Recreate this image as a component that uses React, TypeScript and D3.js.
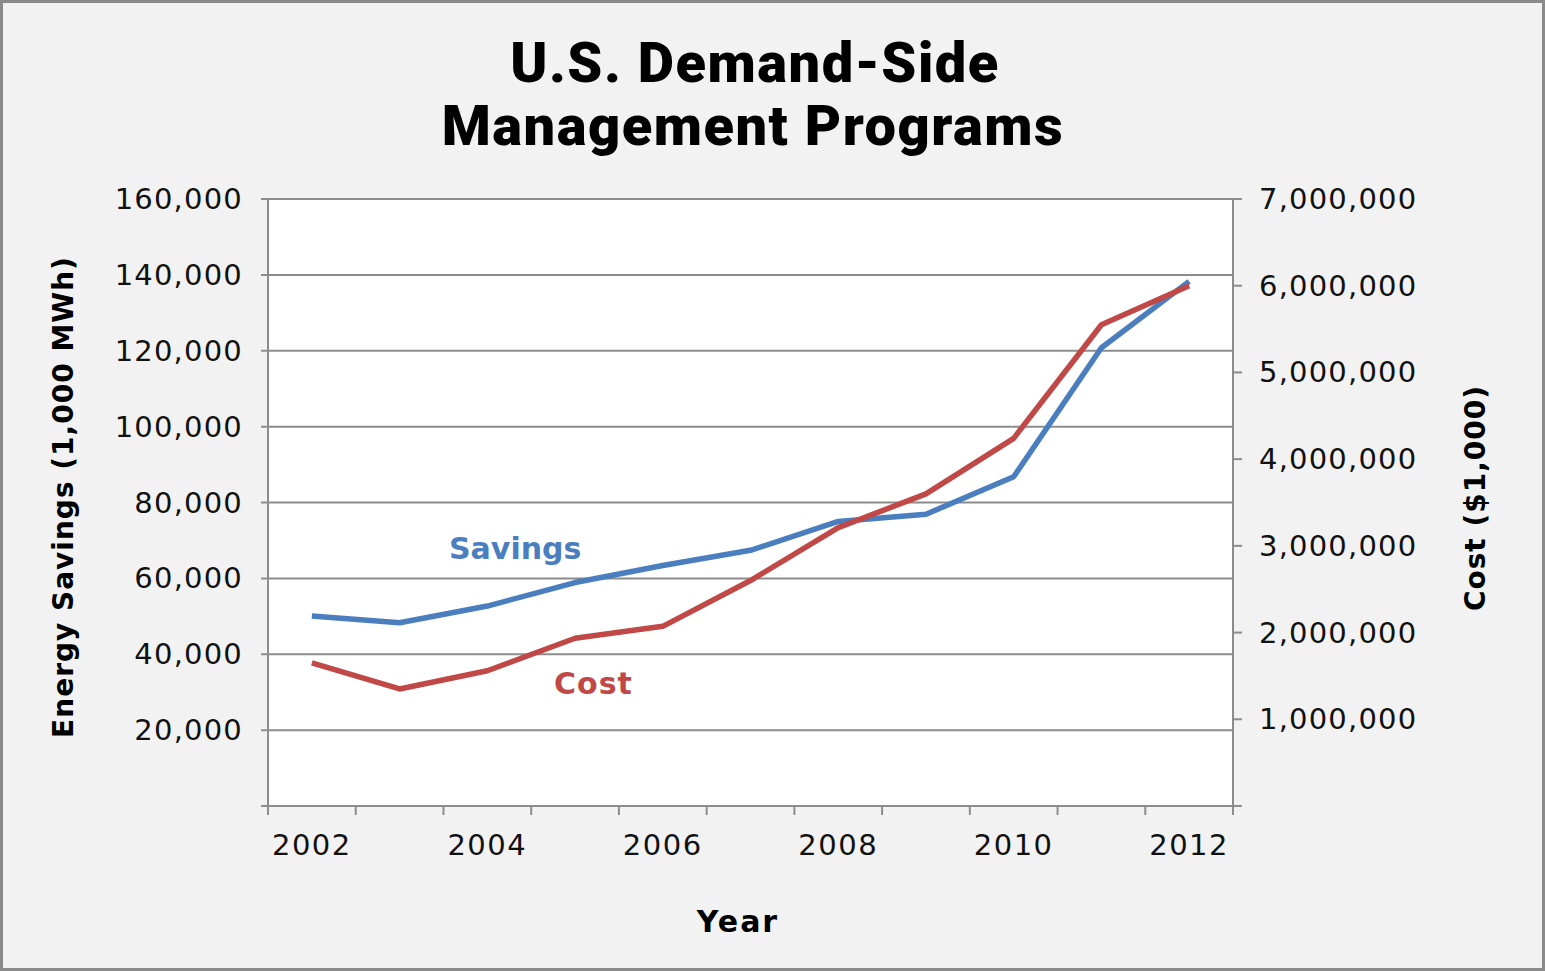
import * as d3 from "d3";
import { useEffect, useRef } from "react";

// values
const years = [2002, 2003, 2004, 2005, 2006, 2007, 2008, 2009, 2010, 2011, 2012];
const savings = [50100, 48300, 52700, 58900, 63400, 67400, 75000, 76900, 86800, 120800, 138300];
const cost = [1650000, 1350000, 1560000, 1935000, 2072000, 2600000, 3210000, 3600000, 4240000, 5550000, 6000000];
const leftTicks = [20000, 40000, 60000, 80000, 100000, 120000, 140000, 160000];
const rightTicks = [1000000, 2000000, 3000000, 4000000, 5000000, 6000000, 7000000];
const yearLabels = [2002, 2004, 2006, 2008, 2010, 2012];

const W = 1545;
const H = 971;

const App = () => {
  const ref = useRef<SVGSVGElement | null>(null);

  useEffect(() => {
    const svg = d3.select(ref.current);
    svg.selectAll("*").remove();

    const margin = { top: 199, bottom: 165, left: 268, right: 312 };
    const x0 = margin.left;
    const x1 = W - margin.right;
    const y0 = H - margin.bottom;
    const y1 = margin.top;

    const font = "'DejaVu Sans', Verdana, sans-serif";
    const axisGray = "#8c8c8c";
    const blue = "#4a7ebf";
    const red = "#c04846";

    // фон и рамка
    svg.append("rect")
      .attr("x", 1.5).attr("y", 1.5)
      .attr("width", W - 3).attr("height", H - 3)
      .attr("fill", "#f2f2f2")
      .attr("stroke", "#8a8a8a")
      .attr("stroke-width", 3);

    svg.append("rect")
      .attr("x", x0).attr("y", y1)
      .attr("width", x1 - x0).attr("height", y0 - y1)
      .attr("fill", "#ffffff");

    const scaleX = d3.scaleBand<number>().domain(years).range([x0, x1]);
    const yLeft = d3.scaleLinear().domain([0, 160000]).range([y0, y1]);
    const yRight = d3.scaleLinear().domain([0, 7000000]).range([y0, y1]);
    const cx = (d: number) => (scaleX(d) as number) + scaleX.bandwidth() / 2;

    // сетка
    svg.append("g")
      .selectAll("line")
      .data(leftTicks)
      .enter()
      .append("line")
      .attr("x1", x0 - 7).attr("x2", x1)
      .attr("y1", d => yLeft(d)).attr("y2", d => yLeft(d))
      .attr("stroke", axisGray)
      .attr("stroke-width", 2);

    // левая ось
    svg.append("line")
      .attr("x1", x0).attr("x2", x0)
      .attr("y1", y1).attr("y2", y0 + 7)
      .attr("stroke", axisGray).attr("stroke-width", 2);
    svg.append("line")
      .attr("x1", x0 - 7).attr("x2", x0)
      .attr("y1", y0).attr("y2", y0)
      .attr("stroke", axisGray).attr("stroke-width", 2);

    svg.append("g")
      .selectAll("text")
      .data(leftTicks)
      .enter()
      .append("text")
      .attr("x", x0 - 25)
      .attr("y", d => yLeft(d) + 10)
      .attr("text-anchor", "end")
      .style("font-family", font)
      .style("font-size", "29px")
      .style("letter-spacing", "1.2px")
      .attr("fill", "#111")
      .text(d => d3.format(",")(d));

    // правая ось
    svg.append("line")
      .attr("x1", x1).attr("x2", x1)
      .attr("y1", y1).attr("y2", y0 + 7)
      .attr("stroke", axisGray).attr("stroke-width", 2);
    svg.append("g")
      .selectAll("line")
      .data([0, ...rightTicks])
      .enter()
      .append("line")
      .attr("x1", x1).attr("x2", x1 + 9)
      .attr("y1", d => yRight(d)).attr("y2", d => yRight(d))
      .attr("stroke", axisGray).attr("stroke-width", 2);

    svg.append("g")
      .selectAll("text")
      .data(rightTicks)
      .enter()
      .append("text")
      .attr("x", x1 + 26)
      .attr("y", d => yRight(d) + 10)
      .attr("text-anchor", "start")
      .style("font-family", font)
      .style("font-size", "29px")
      .style("letter-spacing", "1.2px")
      .attr("fill", "#111")
      .text(d => d3.format(",")(d));

    // ось X
    svg.append("line")
      .attr("x1", x0).attr("x2", x1)
      .attr("y1", y0).attr("y2", y0)
      .attr("stroke", axisGray).attr("stroke-width", 2);
    const bounds = [...years.map(d => scaleX(d) as number), x1];
    svg.append("g")
      .selectAll("line")
      .data(bounds)
      .enter()
      .append("line")
      .attr("x1", d => d).attr("x2", d => d)
      .attr("y1", y0).attr("y2", y0 + 9)
      .attr("stroke", axisGray).attr("stroke-width", 2);

    svg.append("g")
      .selectAll("text")
      .data(yearLabels)
      .enter()
      .append("text")
      .attr("x", d => cx(d))
      .attr("y", y0 + 49)
      .attr("text-anchor", "middle")
      .style("font-family", font)
      .style("font-size", "29px")
      .style("letter-spacing", "1.5px")
      .attr("fill", "#111")
      .text(d => String(d));

    // линии
    const lineL = d3.line<number>()
      .x((_, i) => cx(years[i]))
      .y(d => yLeft(d));
    const lineR = d3.line<number>()
      .x((_, i) => cx(years[i]))
      .y(d => yRight(d));

    svg.append("path")
      .datum(savings)
      .attr("d", lineL)
      .attr("fill", "none")
      .attr("stroke", blue)
      .attr("stroke-width", 5.5)
      .attr("stroke-linejoin", "round");

    svg.append("path")
      .datum(cost)
      .attr("d", lineR)
      .attr("fill", "none")
      .attr("stroke", red)
      .attr("stroke-width", 5.5)
      .attr("stroke-linejoin", "round");

    // подписи серий
    svg.append("text")
      .attr("x", 449).attr("y", 559)
      .style("font-family", font)
      .style("font-size", "30px")
      .style("font-weight", "bold")
      .attr("fill", blue)
      .text("Savings");
    svg.append("text")
      .attr("x", 554).attr("y", 694)
      .style("font-family", font)
      .style("font-size", "30px")
      .style("font-weight", "bold")
      .style("letter-spacing", "1px")
      .attr("fill", red)
      .text("Cost");

    // заголовок
    const title = svg.append("text")
      .attr("text-anchor", "middle")
      .style("font-family", "Roboto, sans-serif")
      .style("font-weight", "900")
      .style("font-size", "56px")
      .style("letter-spacing", "1.5px")
      .attr("fill", "#000");
    title.append("tspan").attr("x", 755).attr("y", 82).text("U.S. Demand-Side");
    title.append("tspan").attr("x", 753).attr("y", 145).text("Management Programs");

    // подписи осей
    svg.append("text")
      .attr("transform", `translate(73, 497) rotate(-90)`)
      .attr("text-anchor", "middle")
      .style("font-family", font)
      .style("font-size", "28px")
      .style("font-weight", "bold")
      .style("letter-spacing", "1px")
      .attr("fill", "#000")
      .text("Energy Savings (1,000 MWh)");

    svg.append("text")
      .attr("transform", `translate(1485, 498) rotate(-90)`)
      .attr("text-anchor", "middle")
      .style("font-family", font)
      .style("font-size", "28px")
      .style("font-weight", "bold")
      .style("letter-spacing", "1px")
      .attr("fill", "#000")
      .text("Cost ($1,000)");

    svg.append("text")
      .attr("x", 738).attr("y", 932)
      .attr("text-anchor", "middle")
      .style("font-family", font)
      .style("font-size", "30px")
      .style("font-weight", "bold")
      .style("letter-spacing", "2px")
      .attr("fill", "#000")
      .text("Year");
  }, []);

  return (
    <svg
      ref={ref}
      width={W}
      height={H}
      style={{ position: "absolute", left: 0, top: 0, display: "block" }}
    />
  );
};

export default App;
